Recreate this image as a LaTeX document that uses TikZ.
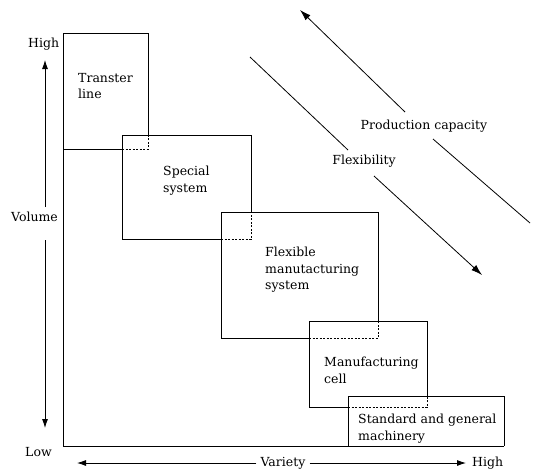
\documentclass[tikz,border=0pt]{standalone}
\usepackage{fontspec}
\setmainfont{DejaVu Serif}
\usetikzlibrary{arrows.meta}
\begin{document}
\begin{tikzpicture}[x=1pt,y=-1pt,
  line/.style={line width=1pt},
  dsh/.style={line width=1pt,dash pattern=on 2pt off 1.5pt},
  lbl/.style={inner sep=0pt,font=\fontsize{12.5}{16.5}\selectfont,align=left},
  arr/.style={line width=0.8pt,-{Latex[length=9pt,width=6pt]}},
  darr/.style={line width=0.8pt,-{Latex[length=11pt,width=7pt]}}]
\useasboundingbox (0,0) rectangle (533,475);
% axes (left side of transfer line is the volume axis)
\draw[line] (148,135) -- (148,33) -- (63,33) -- (63,446) -- (504,446);
\draw[line] (63,149) -- (122,149);
\draw[dsh] (122,149) -- (148,149) -- (148,135);
% special system
\draw[line] (251,211) -- (251,135) -- (122,135) -- (122,239) -- (221,239);
\draw[dsh] (221,239) -- (251,239) -- (251,211);
% FMS
\draw[line] (378,321) -- (378,212) -- (221,212) -- (221,338) -- (309,338);
\draw[dsh] (309,338) -- (378,338) -- (378,321);
% cell
\draw[line] (427,396) -- (427,321) -- (309,321) -- (309,407) -- (348,407);
\draw[dsh] (348,407) -- (427,407) -- (427,396);
% standard
\draw[line] (348,446) -- (348,396) -- (504,396) -- (504,446);
% box labels
\node[lbl,anchor=north west] (tl) at (78,73) {Transter\\line};
\node[lbl,anchor=north west] (ss) at (163,166) {Special\\system};
\node[lbl,anchor=north west] (fms) at (265,247) {Flexible\\manutacturing\\system};
\node[lbl,anchor=north west] (mc) at (324,357) {Manufacturing\\cell};
\node[lbl,anchor=north west] (sg) at (358,414) {Standard and general\\machinery};
% axis labels
\node[lbl,anchor=base west] (vhigh) at (28,47) {High};
\node[lbl] (vol) at (34.5,217) {Volume};
\node[lbl,anchor=base west] (low) at (25,456) {Low};
\node[lbl] (var) at (283,463) {Variety};
\node[lbl,anchor=west] (hhigh) at (472,463) {High};
\coordinate (vtop) at (45,60);
\coordinate (vbot) at (45,428);
\coordinate (hl) at (77,463);
\coordinate (hr) at (466,463);
\draw[arr] (45,207) -- (vtop);
\draw[arr] (45,240) -- (vbot);
\draw[arr] (var.west) ++(-4,0) -- (hl);
\draw[arr] (var.east) ++(4,0) -- (hr);
% diagonal arrows
\node[lbl] (pc) at (424,126) {Production capacity};
\node[lbl] (fx) at (364,161) {Flexibility};
\coordinate (pctop) at (300,10);
\coordinate (pcend) at (530,223);
\coordinate (fxstart) at (250,57);
\coordinate (fxend) at (482,275);
\draw[darr] (405,112) -- (pctop);
\draw[line,line width=0.8pt] (433,139) -- (pcend);
\draw[line,line width=0.8pt] (fxstart) -- (348,150);
\draw[darr] (374,176) -- (fxend);
\end{tikzpicture}
\end{document}
